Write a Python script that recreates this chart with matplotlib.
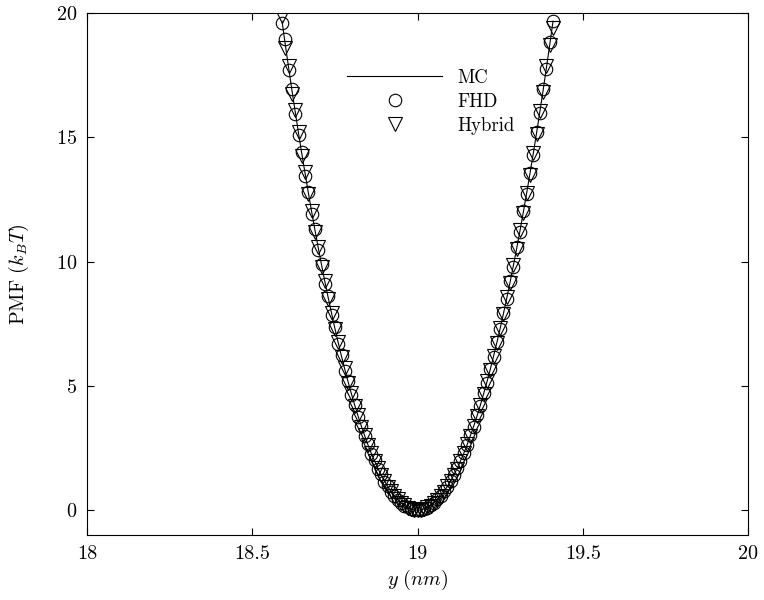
"""PMF profile: MC vs FHD vs Hybrid."""
import matplotlib
matplotlib.use('Agg')
import matplotlib.pyplot as plt

plt.rcParams['font.family'] = 'serif'
plt.rcParams['font.serif'] = ['cmr10']
plt.rcParams['mathtext.fontset'] = 'cm'
plt.rcParams['axes.formatter.use_mathtext'] = True

# --- data ---
y_nm = [18.59, 18.60, 18.61, 18.62, 18.63, 18.64, 18.65, 18.66, 18.67, 18.68,
        18.69, 18.70, 18.71, 18.72, 18.73, 18.74, 18.75, 18.76, 18.77, 18.78,
        18.79, 18.80, 18.81, 18.82, 18.83, 18.84, 18.85, 18.86, 18.87, 18.88,
        18.89, 18.90, 18.91, 18.92, 18.93, 18.94, 18.95, 18.96, 18.97, 18.98,
        18.99, 19.00, 19.01, 19.02, 19.03, 19.04, 19.05, 19.06, 19.07, 19.08,
        19.09, 19.10, 19.11, 19.12, 19.13, 19.14, 19.15, 19.16, 19.17, 19.18,
        19.19, 19.20, 19.21, 19.22, 19.23, 19.24, 19.25, 19.26, 19.27, 19.28,
        19.29, 19.30, 19.31, 19.32, 19.33, 19.34, 19.35, 19.36, 19.37, 19.38,
        19.39, 19.40, 19.41]

pmf_mc = [19.67, 18.72, 17.80, 16.89, 16.02, 15.16, 14.33, 13.53, 12.74, 11.98,
          11.24, 10.53, 9.84, 9.17, 8.53, 7.91, 7.31, 6.74, 6.19, 5.66,
          5.16, 4.68, 4.22, 3.79, 3.38, 3.00, 2.63, 2.29, 1.98, 1.68,
          1.42, 1.17, 0.95, 0.75, 0.57, 0.42, 0.29, 0.19, 0.11, 0.05,
          0.01, 0.00, 0.01, 0.05, 0.11, 0.19, 0.29, 0.42, 0.57, 0.75,
          0.95, 1.17, 1.42, 1.68, 1.98, 2.29, 2.63, 3.00, 3.38, 3.79,
          4.22, 4.68, 5.16, 5.66, 6.19, 6.74, 7.31, 7.91, 8.53, 9.17,
          9.84, 10.53, 11.24, 11.98, 12.74, 13.53, 14.33, 15.16, 16.02, 16.89,
          17.80, 18.72, 19.67]

pmf_fhd = [19.60, 18.95, 17.70, 16.95, 15.95, 15.10, 14.40, 13.45, 12.80, 11.90,
           11.30, 10.45, 9.90, 9.10, 8.60, 7.85, 7.35, 6.70, 6.25, 5.60,
           5.20, 4.65, 4.25, 3.75, 3.40, 2.97, 2.66, 2.27, 2.00, 1.66,
           1.44, 1.15, 0.97, 0.73, 0.58, 0.41, 0.30, 0.18, 0.12, 0.05,
           0.02, 0.00, 0.02, 0.06, 0.10, 0.20, 0.28, 0.43, 0.56, 0.76,
           0.94, 1.18, 1.40, 1.70, 1.96, 2.31, 2.61, 3.02, 3.36, 3.81,
           4.20, 4.70, 5.13, 5.69, 6.16, 6.77, 7.28, 7.94, 8.50, 9.20,
           9.80, 10.57, 11.20, 12.02, 12.70, 13.58, 14.28, 15.20, 15.98, 16.93,
           17.76, 18.85, 19.68]

pmf_hyb = [19.90, 18.60, 17.85, 16.75, 16.10, 15.20, 14.25, 13.60, 12.70, 12.05,
           11.20, 10.60, 9.80, 9.22, 8.48, 7.95, 7.28, 6.78, 6.15, 5.70,
           5.13, 4.70, 4.20, 3.81, 3.36, 3.02, 2.61, 2.31, 1.96, 1.70,
           1.40, 1.19, 0.93, 0.76, 0.56, 0.43, 0.28, 0.20, 0.10, 0.06,
           0.01, 0.01, 0.01, 0.04, 0.12, 0.18, 0.30, 0.41, 0.58, 0.74,
           0.96, 1.16, 1.43, 1.67, 1.99, 2.28, 2.65, 2.98, 3.40, 3.77,
           4.24, 4.66, 5.19, 5.63, 6.22, 6.71, 7.33, 7.88, 8.56, 9.13,
           9.87, 10.49, 11.27, 11.94, 12.77, 13.49, 14.36, 15.12, 16.05, 16.82,
           17.86, 18.70, 19.40]

xticks = [18, 18.5, 19, 19.5, 20]
xticklabels = ['18', '18.5', '19', '19.5', '20']
yticks = [0, 5, 10, 15, 20]

fig = plt.figure(figsize=(7.64, 6.0), dpi=100)
ax = fig.add_axes([0.1139, 0.1083, 0.8652, 0.87])

ax.plot(y_nm, pmf_mc, '-', color='black', linewidth=0.8, label='MC')
ax.plot(y_nm, pmf_fhd, 'o', color='black', markerfacecolor='none',
        markersize=9, markeredgewidth=0.8, label='FHD')
ax.plot(y_nm, pmf_hyb, 'v', color='black', markerfacecolor='none',
        markersize=10, markeredgewidth=0.8, label='Hybrid')

ax.set_xlim(18, 20)
ax.set_ylim(-1, 20)
ax.set_xticks(xticks)
ax.set_xticklabels(xticklabels)
ax.set_yticks(yticks)
ax.tick_params(direction='in', top=True, right=True, length=5,
               labelsize=14.5, width=0.8, pad=7)
for s in ax.spines.values():
    s.set_linewidth(0.8)

ax.set_xlabel(r'$y\ (nm)$', fontsize=14.5, labelpad=4)
ax.set_ylabel(r'PMF ($k_BT$)', fontsize=14.5, labelpad=18)

ax.legend(loc='upper left', bbox_to_anchor=(0.393, 0.893), frameon=False,
          fontsize=13.5, handlelength=5.1, handletextpad=0.8, numpoints=1,
          borderpad=0, borderaxespad=0, labelspacing=0.32)

fig.savefig('out.png', dpi=100)
